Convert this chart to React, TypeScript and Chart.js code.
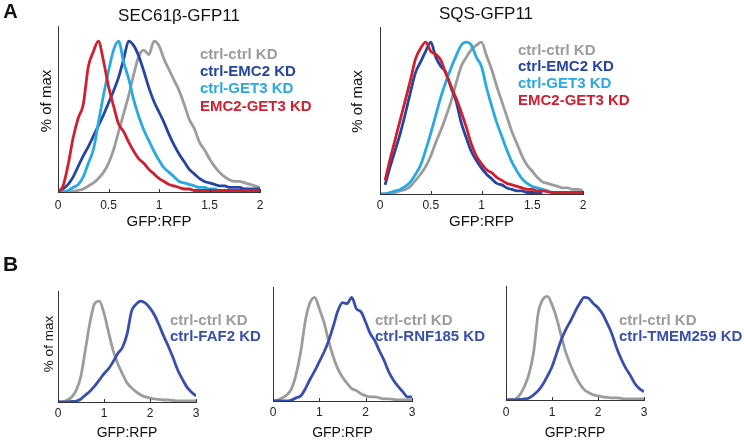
import React, { useEffect, useRef } from "react";
import { Chart, registerables } from "chart.js";

Chart.register(...registerables);

const FONT = "'Liberation Sans', Arial, Helvetica, sans-serif";

// ---------- data ----------
const A_BINS = [
  0, 0.05, 0.1, 0.15, 0.2, 0.25, 0.3, 0.35, 0.4, 0.45, 0.5, 0.55, 0.6, 0.65, 0.7, 0.75, 0.8, 0.85, 0.9, 0.95,
  1, 1.05, 1.1, 1.15, 1.2, 1.25, 1.3, 1.35, 1.4, 1.45, 1.5, 1.55, 1.6, 1.65, 1.7, 1.75, 1.8, 1.85, 1.9, 1.95, 2,
];
const B_BINS = [
  0, 0.1, 0.2, 0.3, 0.4, 0.5, 0.6, 0.7, 0.8, 0.9, 1, 1.1, 1.2, 1.3, 1.4, 1.5, 1.6, 1.7, 1.8, 1.9, 2, 2.1, 2.2,
  2.3, 2.4, 2.5, 2.6, 2.7, 2.8, 2.9, 3,
];
const A_TICKS = [0, 0.5, 1, 1.5, 2];
const B_TICKS = [0, 1, 2, 3];

const A_LABELS = ["ctrl-ctrl KD", "ctrl-EMC2 KD", "ctrl-GET3 KD", "EMC2-GET3 KD"];
const SEC_CTRL = [0,0,0,0.5,1,2,4,6,9,13,19,28,40,52,64,78,90,94,91,100,97,88,81,74,67,58,48,42,33,28,22,17,13,10,8,7,7,6,5,4,3];
const SEC_EMC2 = [0,2,5,10,17,24,30,37,44,51,59,67,76,88,100,97,90,80,69,60,53,46,38,31,25,20,15,12,9,7,6,5,4,4,3,3,3,2,2,2,2];
const SEC_GET3 = [0,0,1,3,5,10,19,28,46,64,80,94,100,86,75,61,50,41,34,27,21,16,13,10,7,6,5,4,3,3,2,2,1,1,1,1,1,1,1,1,1];
const SEC_BOTH = [0,4,18,36,49,58,83,93,100,87,70,57,45,40,33,27,22,19,15,12,9,7,5,4,3,2,2,1,1,1,1,1,1,1,1,1,1,1,1,1,1];

const SQS_CTRL = [0,0,0.5,1,2,3,5,9,13,18,25,34,42,51,61,73,84,90,95,98,100,91,82,71,61,51,41,33,25,19,15,11,8,7,6,5,4,4,3,3,2];
const SQS_EMC2 = [null,6,18,29,40,53,67,80,87,94,100,90,84,80,70,61,47,37,28,22,17,13,10,7,6,4,3,2,2,1,1,0.5,0.3,null,null,null,null,null,null,null,null];
const SQS_GET3 = [0,0,1,2,3,5,8,13,19,29,40,52,64,74,83,91,98,100,98,90,84,70,58,47,38,29,21,15,10,7,5,4,3,2,1,1,1,1,1,1,1];
const SQS_BOTH = [null,9,23,36,49,62,75,89,96,100,94,92,88,79,71,63,54,44,33,25,20,16,14,11,9,7,6,5,4,3,3,2,2,1.5,1,1,1,1,1,1,1];

const B_CTRL_LABEL = "ctrl-ctrl KD";
const FAF2_CTRL = [0,0,2,5,12,26,53,80,98,100,88,69,51,38,28,19,14,10,7,5,4,3,2.5,2,2,1.5,1,1,1,1,1];
const FAF2_KD = [0,0,0,0.5,1,3,7,11,16,22,28,33,40,48,54,67,90,97,100,98,93,86,76,65,55,44,32,23,15,10,6];
const RNF185_CTRL = [0,1,3,6,12,26,48,78,95,100,89,76,58,43,31,23,17,12,10,7,5,4,4,3,2,2,1.5,1,1,1,1];
const RNF185_KD = [0,0,0,0,1,3,5,12,21,29,38,47,58,72,87,95,94,100,89,86,76,65,58,48,39,28,20,14,9,4,4];
const TMEM259_CTRL = [0,0.5,1,5,13,25,46,84,97,100,92,79,62,46,34,24,16,10,7,5,4,3,2.5,2,2,1.5,1,1,1,1,1];
const TMEM259_KD = [0,0,0,0.5,1,2,5,9,15,23,32,45,58,68,76,85,93,99,98,93,89,83,74,64,51,40,31,24,16,11,8];

// ---------- styles ----------
const GRAY = "#9c9c9c";
const DARK_BLUE = "#2446a2";
const LIGHT_BLUE = "#29a9e1";
const RED = "#d11f30";
const B_BLUE = "#3850ad";

type Series = { label: string; data: (number | null)[]; color: string; order: number };
type Panel = {
  id: string;
  box: { L: number; T: number; W: number; H: number };
  plot: { l: number; t: number; r: number; b: number };
  bins: number[];
  ticks: number[];
  xmax: number;
  series: Series[];
  ylabel: { cx: number; cy: number; size: number } | null;
  xlabel: { cy: number; size: number };
  tickPad: number;
  legend: { x: number; y: number; step: number };
};

const PANELS: Panel[] = [
  {
    id: "a1",
    box: { L: 0, T: 0, W: 345, H: 235 },
    plot: { l: 58, t: 26, r: 260, b: 192 },
    bins: A_BINS, ticks: A_TICKS, xmax: 2,
    series: [
      { label: A_LABELS[0], data: SEC_CTRL, color: GRAY, order: 3 },
      { label: A_LABELS[1], data: SEC_EMC2, color: DARK_BLUE, order: 2 },
      { label: A_LABELS[2], data: SEC_GET3, color: LIGHT_BLUE, order: 1 },
      { label: A_LABELS[3], data: SEC_BOTH, color: RED, order: 0 },
    ],
    ylabel: { cx: 47, cy: 101, size: 15 },
    xlabel: { cy: 222, size: 15 },
    tickPad: 6,
    legend: { x: 200, y: 59, step: 17.2 },
  },
  {
    id: "a2",
    box: { L: 345, T: 0, W: 399, H: 235 },
    plot: { l: 380, t: 27, r: 583, b: 194 },
    bins: A_BINS, ticks: A_TICKS, xmax: 2,
    series: [
      { label: A_LABELS[0], data: SQS_CTRL, color: GRAY, order: 3 },
      { label: A_LABELS[1], data: SQS_EMC2, color: DARK_BLUE, order: 2 },
      { label: A_LABELS[2], data: SQS_GET3, color: LIGHT_BLUE, order: 1 },
      { label: A_LABELS[3], data: SQS_BOTH, color: RED, order: 0 },
    ],
    ylabel: { cx: 357.5, cy: 101.5, size: 15 },
    xlabel: { cy: 222, size: 15 },
    tickPad: 4,
    legend: { x: 518, y: 54.5, step: 16.7 },
  },
  {
    id: "b1",
    box: { L: 0, T: 270, W: 262, H: 172 },
    plot: { l: 58, t: 291, r: 196, b: 402 },
    bins: B_BINS, ticks: B_TICKS, xmax: 3,
    series: [
      { label: B_CTRL_LABEL, data: FAF2_CTRL, color: GRAY, order: 1 },
      { label: "ctrl-FAF2 KD", data: FAF2_KD, color: B_BLUE, order: 0 },
    ],
    ylabel: { cx: 49, cy: 344, size: 13.5 },
    xlabel: { cy: 433, size: 14 },
    tickPad: 4,
    legend: { x: 170, y: 325.3, step: 15.7 },
  },
  {
    id: "b2",
    box: { L: 262, T: 270, W: 233, H: 172 },
    plot: { l: 273, t: 287, r: 412, b: 401 },
    bins: B_BINS, ticks: B_TICKS, xmax: 3,
    series: [
      { label: B_CTRL_LABEL, data: RNF185_CTRL, color: GRAY, order: 1 },
      { label: "ctrl-RNF185 KD", data: RNF185_KD, color: B_BLUE, order: 0 },
    ],
    ylabel: null,
    xlabel: { cy: 433, size: 14 },
    tickPad: 4.5,
    legend: { x: 375, y: 325.3, step: 15.7 },
  },
  {
    id: "b3",
    box: { L: 495, T: 270, W: 249, H: 172 },
    plot: { l: 506, t: 286, r: 644, b: 400 },
    bins: B_BINS, ticks: B_TICKS, xmax: 3,
    series: [
      { label: B_CTRL_LABEL, data: TMEM259_CTRL, color: GRAY, order: 1 },
      { label: "ctrl-TMEM259 KD", data: TMEM259_KD, color: B_BLUE, order: 0 },
    ],
    ylabel: null,
    xlabel: { cy: 433, size: 14 },
    tickPad: 5.5,
    legend: { x: 619, y: 325.3, step: 15.7 },
  },
];

const legendPlugin = {
  id: "panelLegend",
  afterDraw(chart: any, _args: any, opts: any) {
    const ctx = chart.ctx;
    ctx.save();
    ctx.font = `bold 15px ${FONT}`;
    ctx.textAlign = "left";
    ctx.textBaseline = "alphabetic";
    chart.data.datasets.forEach((ds: any, i: number) => {
      ctx.fillStyle = ds.borderColor;
      ctx.fillText(ds.label, opts.x, opts.y + i * opts.step);
    });
    ctx.restore();
  },
};

const yTitlePlugin = {
  id: "yTitle",
  afterDraw(chart: any, _args: any, opts: any) {
    if (!opts || !opts.text) return;
    const ctx = chart.ctx;
    ctx.save();
    ctx.translate(opts.x, opts.y);
    ctx.rotate(-Math.PI / 2);
    ctx.font = `${opts.size}px ${FONT}`;
    ctx.fillStyle = "#111";
    ctx.textAlign = "center";
    ctx.textBaseline = "middle";
    ctx.fillText(opts.text, 0, 0);
    ctx.restore();
  },
};

const innerTicksPlugin = {
  id: "innerTicks",
  afterDraw(chart: any) {
    const xs = chart.scales.x;
    const ctx = chart.ctx;
    const bottom = chart.chartArea.bottom;
    ctx.save();
    ctx.strokeStyle = "#333";
    ctx.lineWidth = 1;
    xs.ticks.forEach((t: any) => {
      const px = Math.round(xs.getPixelForValue(t.value)) + 0.5;
      ctx.beginPath();
      ctx.moveTo(px, bottom);
      ctx.lineTo(px, bottom - 3);
      ctx.stroke();
    });
    ctx.restore();
  },
};

function PanelChart({ p }: { p: Panel }) {
  const ref = useRef<HTMLCanvasElement | null>(null);
  useEffect(() => {
    if (!ref.current) return;
    const { L, T, W, H } = p.box;
    const yw = p.plot.l - L;
    const xh = T + H - p.plot.b;
    const padTop = p.plot.t - T;
    const padRight = L + W - p.plot.r;
    const xLH = p.xlabel.size * 1.2;
    const xTitleBottom = T + H - p.xlabel.cy - xLH / 2;
    const chart = new Chart(ref.current, {
      type: "line",
      data: {
        datasets: p.series.map((s) => ({
          label: s.label,
          data: p.bins.map((x, j) => ({ x, y: s.data[j] as any })),
          borderColor: s.color,
          backgroundColor: s.color,
          borderWidth: 2.8,
          pointRadius: 0,
          fill: false,
          cubicInterpolationMode: "monotone" as const,
          order: s.order,
        })),
      },
      options: {
        animation: false,
        responsive: false,
        maintainAspectRatio: false,
        events: [],
        layout: { padding: { top: padTop, right: padRight, left: 0, bottom: 0 } },
        plugins: {
          legend: { display: false },
          tooltip: { enabled: false },
          title: { display: false },
          panelLegend: { x: p.legend.x - L, y: p.legend.y - T, step: p.legend.step },
          yTitle: p.ylabel
            ? { text: "% of max", x: p.ylabel.cx - L, y: p.ylabel.cy - T, size: p.ylabel.size }
            : { text: "" },
        } as any,
        scales: {
          x: {
            type: "linear",
            min: 0,
            max: p.xmax,
            afterBuildTicks: (s: any) => {
              s.ticks = p.ticks.map((v) => ({ value: v }));
            },
            afterFit: (s: any) => {
              s.height = xh;
            },
            grid: { display: false, drawTicks: false, tickLength: 0 },
            border: { display: true, color: "#333", width: 1 },
            ticks: {
              padding: p.tickPad,
              autoSkip: false,
              maxRotation: 0,
              color: "#222",
              font: { family: FONT, size: 12 },
              callback: (v: any) => String(v),
            },
            title: {
              display: true,
              text: "GFP:RFP",
              color: "#111",
              font: { family: FONT, size: p.xlabel.size },
              padding: { top: 0, bottom: xTitleBottom },
            },
          },
          y: {
            type: "linear",
            min: 0,
            max: 110,
            afterFit: (s: any) => {
              s.width = yw;
            },
            grid: { display: false, drawTicks: false, tickLength: 0 },
            border: { display: true, color: "#333", width: 1 },
            ticks: { display: false },
            title: { display: false },
          },
        },
      },
      plugins: [legendPlugin, yTitlePlugin, innerTicksPlugin],
    } as any);
    return () => chart.destroy();
  }, [p]);
  return (
    <div style={{ position: "absolute", left: p.box.L, top: p.box.T, width: p.box.W, height: p.box.H }}>
      <canvas ref={ref} width={p.box.W} height={p.box.H} style={{ width: p.box.W, height: p.box.H, display: "block" }} />
    </div>
  );
}

function Label({ text, cx, cy, size, bold }: { text: string; cx: number; cy: number; size: number; bold?: boolean }) {
  return (
    <div
      style={{
        position: "absolute",
        left: cx,
        top: cy,
        transform: "translate(-50%, -50%)",
        fontFamily: FONT,
        fontSize: size,
        fontWeight: bold ? "bold" : "normal",
        lineHeight: 1,
        whiteSpace: "nowrap",
        color: "#111",
      }}
    >
      {text}
    </div>
  );
}

export default function App() {
  return (
    <div style={{ position: "absolute", left: 0, top: 0, width: 744, height: 442, background: "#fff", overflow: "hidden" }}>
      {PANELS.map((p) => (
        <PanelChart key={p.id} p={p} />
      ))}
      <Label text="A" cx={10.5} cy={11} size={20} bold />
      <Label text="B" cx={10.5} cy={262.5} size={21} bold />
      <Label text="SEC61β-GFP11" cx={179} cy={15} size={17} />
      <Label text="SQS-GFP11" cx={486} cy={12.5} size={17} />
    </div>
  );
}
